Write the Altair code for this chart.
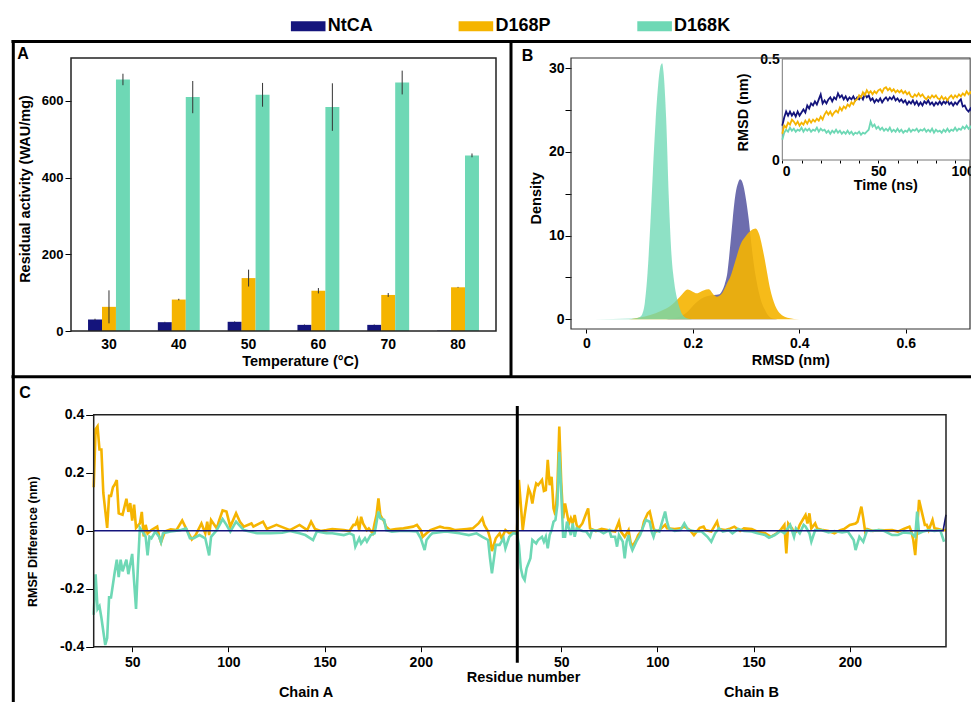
import altair as alt
import pandas as pd

FONT = "Liberation Sans"
SERIES = ["NtCA", "D168P", "D168K"]
COLORS = ["#14147c", "#f5b400", "#6ed8b5"]

# ---------------- Panel A: residual activity ----------------
temps = ["30", "40", "50", "60", "70", "80"]
ntca_act = [30, 23, 24, 16, 16, 1]
ntca_err = [2, 1, 1, 1, 1, 0]
d168p_act = [63, 82, 138, 105, 94, 114]
d168p_err = [43, 2, 22, 7, 5, 1]
d168k_act = [656, 610, 616, 584, 648, 458]
d168k_err = [15, 42, 31, 62, 31, 5]

# ---------------- Panel B: RMSD density ----------------
ntca_dx = [0.15, 0.17, 0.19, 0.20, 0.21, 0.22, 0.23, 0.24, 0.25, 0.255, 0.26, 0.265, 0.27, 0.275, 0.28,
           0.285, 0.289, 0.295, 0.30, 0.305, 0.31, 0.315, 0.32, 0.325, 0.33, 0.335, 0.34, 0.35, 0.36]
ntca_dy = [0, 0.2, 0.9, 1.6, 2.2, 2.6, 2.8, 2.9, 3.0, 3.4, 4.2, 5.6, 8.6, 12.0, 14.9,
           16.3, 16.75, 16.0, 14.3, 12.0, 9.0, 6.4, 4.5, 3.0, 1.9, 1.2, 0.6, 0.1, 0]
d168p_dx = [-0.03, 0.0, 0.08, 0.10, 0.12, 0.14, 0.16, 0.17, 0.18, 0.19, 0.20, 0.2075, 0.215, 0.22, 0.23,
            0.24, 0.245, 0.25, 0.255, 0.26, 0.265, 0.27, 0.28, 0.29, 0.30, 0.31, 0.318, 0.325, 0.33, 0.335,
            0.34, 0.345, 0.35, 0.355, 0.36, 0.37, 0.38, 0.39, 0.41]
d168p_dy = [0, 0, 0, 0.2, 0.5, 1.0, 1.7, 2.3, 3.0, 3.55, 3.3, 3.1, 3.3, 3.45, 3.6,
            2.9, 2.7, 2.8, 3.1, 3.7, 4.4, 5.0, 7.0, 9.0, 10.0, 10.65, 10.85, 10.1, 8.8, 7.2,
            5.4, 3.7, 2.5, 1.6, 1.0, 0.4, 0.15, 0.05, 0]
d168k_dx = [-0.02, 0.05, 0.09, 0.10, 0.105, 0.11, 0.115, 0.12, 0.125, 0.13, 0.135, 0.14, 0.1425, 0.145,
            0.15, 0.155, 0.16, 0.165, 0.17, 0.175, 0.18, 0.19, 0.20]
d168k_dy = [0, 0.05, 0.1, 0.25, 0.6, 2.0, 5.5, 11.0, 17.5, 23.5, 28.0, 30.4, 30.6, 29.6,
            24.0, 14.5, 7.7, 4.5, 2.6, 1.4, 0.6, 0.1, 0]

# ---------------- Panel B inset: RMSD vs time ----------------
time_ns = list(range(0, 101))
ntca_rmsd = [0.17, 0.21, 0.24, 0.22, 0.24, 0.22, 0.235, 0.215, 0.24, 0.22, 0.235, 0.25, 0.235, 0.27, 0.255,
             0.28, 0.27, 0.29, 0.275, 0.3, 0.325, 0.28, 0.295, 0.28, 0.3, 0.31, 0.29, 0.31, 0.3, 0.33,
             0.31, 0.32, 0.3, 0.315, 0.295, 0.31, 0.3, 0.315, 0.295, 0.31, 0.3, 0.315, 0.3, 0.325, 0.31,
             0.32, 0.295, 0.305, 0.285, 0.3, 0.29, 0.305, 0.285, 0.3, 0.31, 0.295, 0.31, 0.3, 0.315, 0.295,
             0.305, 0.29, 0.3, 0.285, 0.295, 0.275, 0.29, 0.28, 0.295, 0.275, 0.29, 0.27, 0.285, 0.27, 0.29,
             0.28, 0.295, 0.275, 0.285, 0.27, 0.285, 0.275, 0.29, 0.275, 0.29, 0.28, 0.295, 0.275, 0.285, 0.27,
             0.285, 0.275, 0.29, 0.3, 0.265, 0.27, 0.25, 0.24, 0.255, 0.235, 0.245]
d168p_rmsd = [0.13, 0.17, 0.16, 0.185, 0.175, 0.2, 0.19, 0.175, 0.19, 0.17, 0.185, 0.175, 0.195, 0.18, 0.2,
              0.185, 0.2, 0.19, 0.205, 0.195, 0.215, 0.2, 0.225, 0.24, 0.225, 0.24, 0.22, 0.235, 0.245, 0.235,
              0.26, 0.245, 0.265, 0.255, 0.275, 0.265, 0.285, 0.275, 0.295, 0.3, 0.32, 0.31, 0.335, 0.32, 0.345,
              0.33, 0.34, 0.325, 0.34, 0.33, 0.345, 0.35, 0.335, 0.355, 0.36, 0.345, 0.355, 0.34, 0.35, 0.335,
              0.345, 0.335, 0.345, 0.33, 0.34, 0.325, 0.335, 0.315, 0.31, 0.325, 0.315, 0.33, 0.315, 0.325, 0.31,
              0.3, 0.315, 0.305, 0.32, 0.31, 0.32, 0.305, 0.3, 0.315, 0.3, 0.31, 0.295, 0.31, 0.32, 0.305,
              0.32, 0.31, 0.325, 0.315, 0.33, 0.32, 0.34, 0.325, 0.335, 0.32, 0.33]
d168k_rmsd = [0.1, 0.135, 0.15, 0.14, 0.16, 0.145, 0.155, 0.14, 0.15, 0.145, 0.16, 0.14, 0.155, 0.145, 0.155,
              0.14, 0.15, 0.145, 0.16, 0.14, 0.155, 0.145, 0.15, 0.135, 0.145, 0.13, 0.145, 0.135, 0.15, 0.135,
              0.145, 0.13, 0.14, 0.13, 0.145, 0.13, 0.14, 0.125, 0.135, 0.13, 0.14, 0.125, 0.135, 0.13, 0.14,
              0.15, 0.19, 0.165, 0.175, 0.155, 0.165, 0.15, 0.16, 0.145, 0.155, 0.145, 0.16, 0.14, 0.15, 0.14,
              0.155, 0.14, 0.15, 0.135, 0.145, 0.14, 0.155, 0.14, 0.15, 0.145, 0.155, 0.14, 0.15, 0.145, 0.155,
              0.14, 0.15, 0.14, 0.155, 0.135, 0.15, 0.14, 0.145, 0.135, 0.15, 0.14, 0.155, 0.14, 0.15, 0.145,
              0.16, 0.145, 0.155, 0.15, 0.165, 0.155, 0.17, 0.155, 0.165, 0.15, 0.16]

# ---------------- Panel C: RMSF difference ----------------
d168p_resA = [30, 31, 32, 33, 34, 35, 37, 38, 39, 40, 41, 42, 43, 45, 47, 48, 49, 50, 51, 52, 54, 55, 56, 57, 58,
              60, 63, 64, 65, 67, 70, 73, 76, 78, 81, 83, 86, 88, 89, 90, 91, 94, 95, 97, 99, 101, 104, 106, 108,
              112, 113, 118, 120, 125, 132, 137, 141, 143, 145, 148, 151, 154, 160, 163, 165, 166, 167, 168, 169,
              170, 172, 173, 175, 176, 177, 178, 179, 181, 182, 184, 187, 191, 196, 198, 200, 201, 203, 205, 210,
              212, 215, 218, 224, 227, 230, 232, 233, 235, 236, 237, 239, 241, 242, 244, 246, 248, 250]
d168p_valA = [0.15, 0.35, 0.36, 0.28, 0.28, 0.13, 0.01, 0.12, 0.12, 0.15, 0.16, 0.175, 0.06, 0.055, 0.11, 0.065,
              0.095, 0.035, 0.09, 0.01, 0.025, 0.065, -0.02, 0.02, -0.01, 0.002, 0.014, -0.02, -0.04, -0.003,
              0.005, 0.002, 0.035, 0.008, -0.03, -0.015, 0.025, -0.009, 0.031, -0.015, 0.037, 0.008, 0.031, 0.07,
              0.066, 0.014, 0.06, 0.031, 0.014, 0.025, 0.014, 0.031, 0.006, 0.02, 0.002, 0.02, 0.002, 0.031, 0.006,
              -0.001, 0.002, 0.006, 0.002, -0.001, 0.02, 0.02, 0.037, 0.002, 0.048, 0.025, 0.002, 0.008, -0.009,
              0.025, 0.054, 0.111, 0.054, 0.031, 0.014, 0.002, 0.006, 0.008, 0.014, 0.02, 0.002, -0.021, -0.009,
              0.002, 0.014, 0.01, 0.008, 0.002, 0.006, 0.008, 0.025, 0.043, 0.02, -0.003, -0.026, -0.07, -0.026,
              -0.009, -0.026, 0.002, -0.009, -0.003, -0.003]
d168k_resA = [30, 31, 32, 33, 34, 36, 37, 38, 39, 41, 42, 43, 44, 45, 47, 48, 50, 52, 53, 54, 56, 57, 58, 59, 60,
              62, 64, 65, 66, 70, 75, 78, 80, 82, 85, 88, 90, 91, 94, 97, 99, 101, 104, 108, 111, 115, 122, 128,
              132, 137, 140, 144, 146, 151, 154, 160, 163, 165, 166, 168, 169, 171, 172, 174, 176, 178, 179, 181,
              182, 185, 189, 194, 198, 200, 202, 203, 205, 206, 213, 220, 225, 229, 232, 235, 236, 237, 239, 241,
              243, 244, 246, 248, 250]
d168k_valA = [-0.29, -0.15, -0.27, -0.26, -0.3, -0.394, -0.37, -0.23, -0.23, -0.14, -0.1, -0.16, -0.1, -0.14, -0.1,
              -0.15, -0.08, -0.27, -0.12, 0.01, -0.01, -0.021, -0.085, -0.021, -0.026, -0.003, -0.021, -0.04,
              -0.009, -0.003, 0.002, 0.008, -0.026, -0.026, -0.015, -0.026, -0.085, -0.021, 0.002, 0.04, 0.02,
              -0.003, 0.031, 0.002, -0.003, -0.009, -0.009, -0.007, -0.001, -0.009, -0.015, -0.032, -0.003,
              -0.009, -0.009, -0.015, -0.009, -0.015, -0.055, -0.026, -0.044, -0.026, -0.038, -0.015, -0.009,
              0.066, 0.043, 0.037, 0.002, -0.003, -0.001, -0.001, -0.003, -0.026, -0.067, -0.032, -0.015, -0.009,
              -0.003, -0.009, -0.015, -0.009, -0.021, -0.032, -0.095, -0.147, -0.049, -0.049, -0.026, -0.061,
              -0.021, -0.009, -0.01]
d168p_resB = [28, 29, 30, 31, 32, 33, 34, 35, 36, 37, 38, 40, 41, 42, 43, 44, 45, 46, 47, 48, 49, 50, 51, 52, 54,
              55, 56, 57, 58, 59, 61, 63, 64, 65, 68, 71, 74, 78, 80, 81, 83, 85, 86, 87, 89, 90, 92, 93, 95, 96,
              98, 99, 101, 104, 105, 109, 112, 114, 117, 119, 122, 124, 125, 128, 131, 132, 135, 138, 140, 143,
              145, 149, 152, 156, 159, 162, 164, 166, 167, 168, 170, 171, 173, 174, 176, 177, 178, 179, 180, 182,
              183, 186, 189, 192, 195, 197, 200, 203, 204, 206, 207, 208, 209, 212, 215, 218, 222, 225, 228, 231,
              232, 233, 234, 235, 236, 237, 239, 240, 241, 243, 244, 246, 248, 250]
d168p_valB = [0.175, 0.09, 0.002, 0.054, 0.1, 0.146, 0.129, 0.094, 0.134, 0.163, 0.157, 0.175, 0.137, 0.14, 0.244,
              0.157, 0.186, 0.077, 0.054, 0.146, 0.359, 0.167, 0.043, 0.094, 0.025, 0.043, 0.025, 0.054, 0.02,
              0.008, 0.025, 0.06, 0.077, 0.008, -0.001, 0.006, 0.002, -0.003, 0.031, -0.003, -0.021, 0.002,
              -0.038, -0.055, -0.032, -0.015, 0.002, 0.031, 0.06, 0.066, 0.008, -0.003, 0.002, 0.02, 0.008, 0.006,
              0.008, 0.014, 0.002, -0.015, 0.01, 0.014, 0.002, -0.003, 0.031, 0.006, 0.002, 0.008, 0.014, -0.001,
              0.008, 0.006, -0.003, -0.009, -0.021, -0.009, 0.002, 0.02, -0.078, 0.025, 0.008, -0.009, 0.002,
              0.02, 0.043, 0.054, 0.025, 0.06, 0.008, 0.025, 0.008, 0.002, -0.001, -0.009, 0.002, 0.006, 0.02,
              0.025, 0.031, 0.083, 0.043, -0.003, 0.006, -0.001, 0.002, 0.001, 0.002, -0.003, 0.006, 0.014,
              -0.003, -0.032, -0.084, 0.008, 0.106, 0.077, 0.02, 0.02, 0.002, 0.037, 0.008, 0.006, 0.002, 0.002]
d168k_resB = [28, 29, 30, 31, 32, 34, 35, 37, 38, 40, 41, 42, 43, 44, 45, 46, 47, 48, 49, 50, 51, 52, 53, 54, 55,
              56, 57, 58, 61, 63, 65, 66, 70, 72, 75, 76, 78, 79, 80, 82, 83, 84, 85, 86, 87, 89, 91, 93, 94, 96,
              97, 98, 99, 101, 102, 104, 105, 106, 109, 112, 114, 116, 120, 123, 126, 128, 130, 132, 134, 137,
              139, 142, 145, 149, 152, 156, 158, 161, 164, 166, 169, 171, 172, 174, 176, 177, 179, 180, 182, 185,
              189, 192, 196, 199, 202, 203, 205, 207, 209, 211, 215, 218, 222, 225, 228, 232, 234, 235, 236, 238,
              241, 244, 247, 249]
d168k_valB = [-0.049, -0.13, -0.159, -0.17, -0.13, -0.095, -0.032, -0.044, -0.032, -0.021, -0.038, -0.021, -0.061,
              -0.015, 0.002, 0.031, 0.037, 0.089, 0.272, 0.134, -0.021, -0.021, 0.031, 0.008, -0.015, 0.025,
              -0.021, 0.008, -0.001, -0.003, -0.021, 0.002, -0.001, -0.009, 0.002, -0.021, -0.021, -0.055, -0.015,
              -0.038, -0.095, -0.038, -0.015, -0.049, -0.067, -0.038, -0.015, 0.02, 0.037, 0.031, -0.003, -0.021,
              0.002, -0.003, 0.02, 0.066, 0.031, 0.008, -0.001, 0.002, 0.025, 0.002, -0.003, -0.003, -0.021,
              -0.038, -0.009, 0.008, -0.003, 0.002, -0.009, 0.006, -0.001, -0.003, -0.009, -0.015, -0.024, -0.015,
              -0.001, -0.009, 0.02, -0.021, 0.008, -0.009, 0.02, 0.014, -0.009, -0.038, 0.002, 0.002, -0.006,
              -0.001, -0.006, -0.003, -0.032, -0.067, -0.021, -0.038, 0.002, -0.001, 0.002, -0.001, -0.015,
              -0.015, -0.006, -0.009, -0.021, 0.066, -0.009, -0.003, 0.002, -0.001, 0.002, -0.038]
ntca_pos = [30, 471.5, 473]
ntca_val = [0, 0, 0.055]

# ---------------- layout constants (pixels inside the view) ----------------
W, H = 963, 694
CHAIN_B_SHIFT = 223  # chain B residue r is placed at r + 223 on the shared axis

one = pd.DataFrame({"k": [0]})


def txt(s, x, y, size, angle=0, align="center", baseline="middle"):
    return alt.Chart(one).mark_text(text=s, font=FONT, fontSize=size, fontWeight="bold", color="black",
                                    angle=angle, align=align, baseline=baseline).encode(
        x=alt.value(x), y=alt.value(y))


def seg(x1, y1, x2, y2, w, c="black"):
    return alt.Chart(one).mark_rule(color=c, strokeWidth=w).encode(
        x=alt.value(x1), y=alt.value(y1), x2=alt.value(x2), y2=alt.value(y2))


def box(x1, y1, x2, y2, w, c, fill="transparent"):
    return alt.Chart(one).mark_rect(fill=fill, stroke=c, strokeWidth=w).encode(
        x=alt.value(x1), y=alt.value(y1), x2=alt.value(x2), y2=alt.value(y2))


cs = alt.Scale(domain=SERIES, range=COLORS)
LEG = alt.Legend(title=None, orient="none", legendX=282.7, legendY=0.4, direction="horizontal",
                 symbolType="M-1,-0.289L1,-0.289L1,0.289L-1,0.289Z", symbolSize=1197,
                 symbolStrokeWidth=0, symbolOpacity=1, labelFont=FONT, labelFontSize=18,
                 labelFontWeight="bold", labelColor="black", labelOffset=2, columnPadding=85.7,
                 padding=0, labelLimit=300)

# ---------- Panel A
dfA = pd.DataFrame({
    "temp": temps * 3,
    "series": [s for s in SERIES for _ in temps],
    "value": ntca_act + d168p_act + d168k_act,
    "err": ntca_err + d168p_err + d168k_err,
})
dfA["lo"] = dfA["value"] - dfA["err"]
dfA["hi"] = dfA["value"] + dfA["err"]

sxA = alt.Scale(domain=temps, range=[63, 488], paddingInner=0.4, paddingOuter=0.244)
soA = alt.Scale(domain=SERIES, paddingInner=0, paddingOuter=0)
syA = alt.Scale(domain=[0, 712], range=[323, 50], nice=False, zero=False)

barsA = alt.Chart(dfA).mark_bar().encode(
    x=alt.X("temp:N", scale=sxA, axis=alt.Axis(orient="bottom", offset=323 - H, ticks=False, domain=False,
                                                labelPadding=6, labelFontSize=14, labelAngle=0, title=None)),
    xOffset=alt.XOffset("series:N", scale=soA),
    y=alt.Y("value:Q", scale=syA, stack=False,
            axis=alt.Axis(orient="left", offset=-63, values=[0, 200, 400, 600], tickSize=6, labelPadding=2,
                          labelFontSize=13, domain=False, title=None)),
    color=alt.Color("series:N", scale=cs, legend=LEG),
)
errA = alt.Chart(dfA).mark_rule(color="#333333", strokeWidth=1).encode(
    x=alt.X("temp:N", scale=sxA, axis=None),
    xOffset=alt.XOffset("series:N", scale=soA),
    y=alt.Y("lo:Q", scale=syA, axis=None),
    y2="hi:Q",
)

# ---------- Panel B
sxB = alt.Scale(domain=[-0.0287, 0.7281], range=[563, 966], nice=False, zero=False)
syB = alt.Scale(domain=[-1.16, 31.23], range=[321, 50], nice=False, zero=False)


def dens_layer(xs, ys, name, opacity, with_axes=False):
    df = pd.DataFrame({"x": xs, "d": ys, "series": name})
    if with_axes:
        ax_x = alt.Axis(orient="bottom", offset=321 - H, values=[0, 0.2, 0.4, 0.6],
                        labelExpr="datum.value == 0 ? '0' : format(datum.value, '.1f')",
                        tickSize=4, labelPadding=3, labelFontSize=14, domain=False, title=None)
        ax_y = alt.Axis(orient="left", offset=-563, values=[0, 5, 10, 15, 20, 25, 30],
                        labelExpr="datum.value % 10 == 0 ? datum.label : ''", tickSize=6, labelPadding=1,
                        labelFontSize=14, domain=False, title=None, labelOverlap=False)
    else:
        ax_x = None
        ax_y = None
    return alt.Chart(df).mark_area(opacity=opacity, interpolate="monotone").encode(
        x=alt.X("x:Q", scale=sxB, axis=ax_x),
        y=alt.Y("d:Q", scale=syB, stack=False, axis=ax_y),
        y2=alt.datum(0),
        color=alt.Color("series:N", scale=cs, legend=None),
    )


areaN = dens_layer(ntca_dx, ntca_dy, "NtCA", 0.62, with_axes=True)
areaP = dens_layer(d168p_dx, d168p_dy, "D168P", 0.9)
areaK = dens_layer(d168k_dx, d168k_dy, "D168K", 0.78)

# inset
sxI = alt.Scale(domain=[0, 100], range=[774.3, 966.3], nice=False, zero=False)
syI = alt.Scale(domain=[0, 0.5], range=[152, 51], nice=False, zero=False)


def rmsd_layer(vals, name, with_axes=False):
    df = pd.DataFrame({"t": time_ns, "r": vals, "series": name})
    if with_axes:
        ax_x = alt.Axis(orient="bottom", offset=152 - H, values=list(range(0, 101, 10)),
                        labelExpr="datum.value % 50 == 0 ? datum.label : ''", tickSize=3, labelPadding=1,
                        labelFontSize=14, domain=False, title=None, labelOverlap=False)
        ax_y = alt.Axis(orient="left", offset=-774.3, values=[0, 0.5],
                        labelExpr="datum.value == 0 ? '0' : '0.5'", ticks=False, labelPadding=3,
                        labelFontSize=14, domain=False, title=None)
    else:
        ax_x = None
        ax_y = None
    return alt.Chart(df).mark_line(strokeWidth=1.8).encode(
        x=alt.X("t:Q", scale=sxI, axis=ax_x),
        y=alt.Y("r:Q", scale=syI, axis=ax_y),
        color=alt.Color("series:N", scale=cs, legend=None),
    )


lineIK = rmsd_layer(d168k_rmsd, "D168K", with_axes=True)
lineIN = rmsd_layer(ntca_rmsd, "NtCA")
lineIP = rmsd_layer(d168p_rmsd, "D168P")

# ---------- Panel C
sxC = alt.Scale(domain=[30, 473], range=[85.7, 938], nice=False, zero=False)
syC = alt.Scale(domain=[-0.4, 0.4], range=[638.7, 406.7], nice=False, zero=False)


def rmsf_df(resA, valA, resB, valB, name):
    pos = list(resA) + [r + CHAIN_B_SHIFT for r in resB]
    return pd.DataFrame({"pos": pos, "v": list(valA) + list(valB), "series": name})


dfCP = rmsf_df(d168p_resA, d168p_valA, d168p_resB, d168p_valB, "D168P")
dfCK = rmsf_df(d168k_resA, d168k_valA, d168k_resB, d168k_valB, "D168K")
dfCN = pd.DataFrame({"pos": ntca_pos, "v": ntca_val, "series": "NtCA"})

axCx = alt.Axis(orient="bottom", offset=638.7 - H, values=[50, 100, 150, 200, 273, 323, 373, 423],
                labelExpr="datum.value > 250 ? format(datum.value - 223, 'd') : format(datum.value, 'd')",
                tickSize=5, labelPadding=4, labelFontSize=14, domain=False, title=None, labelOverlap=False)
axCy = alt.Axis(orient="left", offset=-85.7, values=[-0.4, -0.2, 0, 0.2, 0.4],
                labelExpr="datum.value == 0 ? '0' : replace(format(datum.value, '.1f'), '\u2212', '-')",
                tickSize=8, labelPadding=2, labelFontSize=14, domain=False, title=None)

lineCP = alt.Chart(dfCP).mark_line(strokeWidth=2.6).encode(
    x=alt.X("pos:Q", scale=sxC, axis=axCx),
    y=alt.Y("v:Q", scale=syC, axis=axCy),
    color=alt.Color("series:N", scale=cs, legend=None),
)
lineCK = alt.Chart(dfCK).mark_line(strokeWidth=2.6).encode(
    x=alt.X("pos:Q", scale=sxC, axis=None),
    y=alt.Y("v:Q", scale=syC, axis=None),
    color=alt.Color("series:N", scale=cs, legend=None),
)
lineCN = alt.Chart(dfCN).mark_line(strokeWidth=1.6).encode(
    x=alt.X("pos:Q", scale=sxC, axis=None),
    y=alt.Y("v:Q", scale=syC, axis=None),
    color=alt.Color("series:N", scale=cs, legend=None),
)

layers = [
    barsA, errA, box(63, 50, 488, 323, 1.5, "#222222"),
    areaN, areaP, areaK, box(563, 50, 962, 321, 1.2, "#333333"),
    box(774.3, 51, 962, 152, 1, "#777777", fill="white"),
    lineIK, lineIN, lineIP,
    lineCP, lineCK, lineCN, box(85.7, 406.7, 938, 638.7, 1.5, "#222222"),
    seg(509.3, 398, 509.3, 654.7, 3),
    # panel frames
    seg(3.5, 33.5, W, 33.5, 3), seg(5.3, 32, 5.3, H, 3),
    seg(503, 32, 503, 370, 3), seg(3.5, 368.7, W, 368.7, 3),
    # texts
    txt("A", 9.3, 51.3, 16, align="left", baseline="alphabetic"),
    txt("B", 513.7, 52.7, 16, align="left", baseline="alphabetic"),
    txt("C", 11.3, 390.3, 16, align="left", baseline="alphabetic"),
    txt("Residual activity (WAU/mg)", 17.7, 181, 14.5, angle=270),
    txt("Temperature (°C)", 292.5, 353.5, 14.5),
    txt("Density", 528.7, 190.3, 14.5, angle=270),
    txt("RMSD (nm)", 782.8, 353, 14.5),
    txt("RMSD (nm)", 736.2, 104.5, 14.5, angle=270),
    txt("Time (ns)", 877.8, 178, 14.5),
    txt("RMSF Difference (nm)", 25.3, 533.7, 12.5, angle=270),
    txt("Residue number", 515.5, 670, 14.5),
    txt("Chain A", 298, 684.5, 14.5),
    txt("Chain B", 743.5, 684.5, 14.5),
]

chart = alt.layer(*layers).resolve_scale(
    x="independent", y="independent", xOffset="independent"
).properties(
    width=W, height=H, autosize=alt.AutoSizeParams(type="none"), padding=0, background="white"
).configure_view(stroke=None).configure_axis(
    grid=False, labelFont=FONT, labelFontWeight="bold", labelColor="black", tickColor="black",
    domainColor="black"
)

chart.save("out.html", embed_options={"renderer": "svg", "actions": False})
